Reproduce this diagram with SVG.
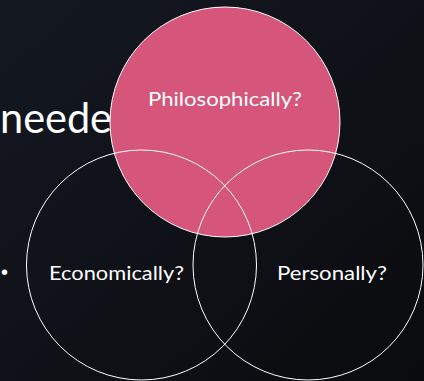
<svg xmlns="http://www.w3.org/2000/svg" width="424" height="381" viewBox="0 0 424 381">
  <defs>
    <linearGradient id="bg" x1="0" y1="0" x2="1" y2="1">
      <stop offset="0" stop-color="#141821"/>
      <stop offset="1" stop-color="#0a0b0e"/>
    </linearGradient>
  </defs>
  <style>
    .lbl { font-family: Lato, "Open Sans", "Liberation Sans", sans-serif; font-size: 20px; fill: #ffffff; text-anchor: middle; }
    .ring { fill: none; stroke: #ffffff; stroke-width: 1; }
    .title { font-family: Lato, "Open Sans", "Liberation Sans", sans-serif; font-size: 42px; fill: #ffffff; }
  </style>
  <rect width="424" height="381" fill="url(#bg)"/>
  <text class="title" x="0" y="133" textLength="112" lengthAdjust="spacingAndGlyphs">neede</text>
  <text x="1" y="279" font-family="Liberation Sans, sans-serif" font-size="20" fill="#ffffff">•</text>
  <g id="philosophically">
    <circle cx="225" cy="122" r="115" fill="#d6557b" stroke="#ffffff" stroke-width="1"/>
    <text class="lbl" x="225" y="106" textLength="154" lengthAdjust="spacingAndGlyphs">Philosophically?</text>
  </g>
  <g id="economically">
    <circle class="ring" cx="141.5" cy="265" r="115"/>
    <text class="lbl" x="116.5" y="280" textLength="135" lengthAdjust="spacingAndGlyphs">Economically?</text>
  </g>
  <g id="personally">
    <circle class="ring" cx="308" cy="265" r="115"/>
    <text class="lbl" x="332" y="280" textLength="110" lengthAdjust="spacingAndGlyphs">Personally?</text>
  </g>
  <g id="connectors"/>
</svg>
